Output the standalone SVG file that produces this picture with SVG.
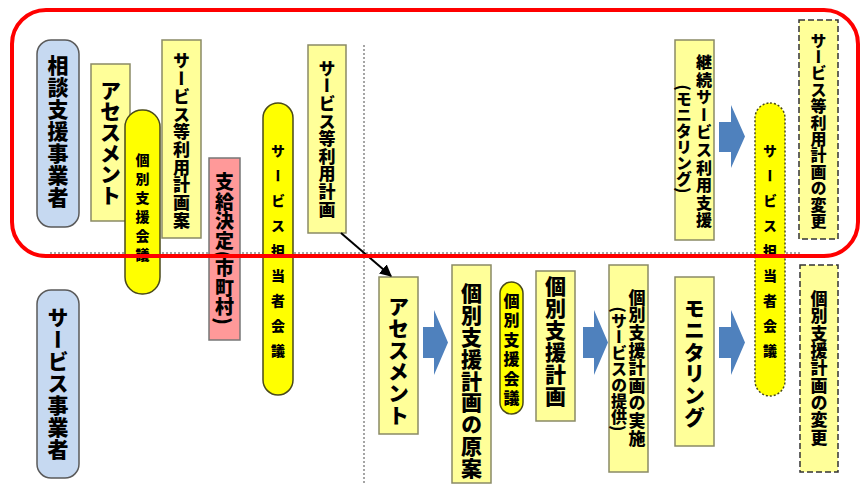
<svg xmlns="http://www.w3.org/2000/svg" width="861" height="485" viewBox="0 0 861 485">
<style>
.lb{fill:#ffff99;stroke:#8a8a66;stroke-width:1.5}
.yp{fill:#ffff00;stroke:#4a4a1a;stroke-width:1.5}
.ypd{fill:#ffff00;stroke:#4a4a1a;stroke-width:1.5;stroke-dasharray:2 2}
.bl{fill:#c6d9f1;stroke:#5a5a5a;stroke-width:1.5}
.pk{fill:#ff9999;stroke:#777;stroke-width:1.5}
.dsh{fill:#ffff99;stroke:#333;stroke-width:1.5;stroke-dasharray:6 3}
.t{font-family:"Noto Sans CJK JP","Noto Sans CJK SC",sans-serif;font-weight:900;writing-mode:vertical-rl;text-anchor:middle;fill:#000}
.dot{stroke:#888;stroke-width:1.5;stroke-dasharray:2 2;fill:none}
.ba{fill:#4f81bd}
</style>
<defs>
<marker id="ah" viewBox="0 0 10 10" refX="9" refY="5" markerWidth="6" markerHeight="6" orient="auto">
<path d="M0,0 L10,5 L0,10 z" fill="#000"/>
</marker>
</defs>
<rect width="861" height="485" fill="#fff"/>
<g id="guides">
<line class="dot" x1="50" y1="253" x2="802" y2="253"/>
<line class="dot" x1="364" y1="45" x2="364" y2="485"/>
</g>
<g id="n1"><rect class="bl" x="37" y="40" width="42" height="187" rx="14"/><text class="t" x="58" y="132" font-size="21" letter-spacing="1">相談支援事業者</text></g>
<g id="n2"><rect class="bl" x="37" y="290" width="42" height="188" rx="14"/><text class="t" x="58" y="384" font-size="21" letter-spacing="1">サービス事業者</text></g>
<g id="n3"><rect class="lb" x="91" y="64" width="39" height="157"/><text class="t" x="110.5" y="143" font-size="21">アセスメント</text></g>
<g id="n5"><rect class="lb" x="162" y="40" width="39" height="198"/><text class="t" x="181.5" y="141" font-size="17" letter-spacing="0.7">サービス等利用計画案</text></g>
<g id="n4"><rect class="yp" x="125" y="110" width="35" height="184" rx="17"/><text class="t" x="142.5" y="210" font-size="14" letter-spacing="5">個別支援会議</text></g>
<g id="n6"><rect class="pk" x="209" y="158" width="31" height="182"/><text class="t" x="224.5" y="249" font-size="19" letter-spacing="0.5">支給決定(市町村)</text></g>
<g id="n7"><rect class="yp" x="263" y="103" width="30" height="292" rx="15"/><text class="t" x="278" y="256" font-size="14" letter-spacing="11">サービス担当者会議</text></g>
<g id="n8"><rect class="lb" x="308" y="45" width="38" height="188"/><text class="t" x="327" y="139" font-size="17" letter-spacing="0.6">サービス等利用計画</text></g>
<g id="n9"><rect class="lb" x="379" y="277" width="39" height="157"/><text class="t" x="398.5" y="361" font-size="21" letter-spacing="0.7">アセスメント</text></g>
<g id="n10"><rect class="lb" x="452" y="265" width="39" height="218"/><text class="t" x="471.5" y="381" font-size="21" letter-spacing="0.8">個別支援計画の原案</text></g>
<g id="n11"><rect class="yp" x="500" y="282" width="23" height="132" rx="11.5"/><text class="t" x="511.5" y="351" font-size="16" letter-spacing="3.5">個別支援会議</text></g>
<g id="n12"><rect class="lb" x="536" y="271" width="39" height="150"/><text class="t" x="555.5" y="342" font-size="21" letter-spacing="1">個別支援計画</text></g>
<g id="n13"><rect class="lb" x="609" y="265" width="39" height="207"/><text class="t" x="637" y="368" font-size="17" letter-spacing="0.6">個別支援計画の実施</text><text class="t" x="619" y="369" font-size="16">(サービスの提供)</text></g>
<g id="n14"><rect class="lb" x="675" y="277" width="39" height="169"/><text class="t" x="694.5" y="363" font-size="21" letter-spacing="0.7">モニタリング</text></g>
<g id="n15"><rect class="ypd" x="755" y="103" width="30" height="293" rx="15"/><text class="t" x="770" y="256" font-size="14" letter-spacing="11">サービス担当者会議</text></g>
<g id="n16"><rect class="dsh" x="800" y="265" width="38" height="207"/><text class="t" x="819" y="368" font-size="17" letter-spacing="0.3">個別支援計画の変更</text></g>
<g id="n17"><rect class="lb" x="675" y="40" width="39" height="200"/><text class="t" x="704" y="142" font-size="16" letter-spacing="1.6">継続サービス利用支援</text><text class="t" x="684" y="139" font-size="16">(モニタリング)</text></g>
<g id="n18"><rect class="dsh" x="799" y="20" width="39" height="219"/><text class="t" x="818.5" y="131" font-size="16" letter-spacing="0.4">サービス等利用計画の変更</text></g>
<g id="connectors">
<line x1="341" y1="233" x2="391" y2="276" stroke="#000" stroke-width="2" marker-end="url(#ah)"/>
<polygon class="ba" points="423,327 434,327 434,310 448,342.5 434,375 434,358 423,358"/>
<polygon class="ba" points="583,327 594,327 594,310 608,342.5 594,375 594,358 583,358"/>
<polygon class="ba" points="719,327 731,327 731,310 745,342.5 731,375 731,358 719,358"/>
<polygon class="ba" points="719,122 731,122 731,105 745,136.5 731,168 731,152 719,152"/>
</g>
<rect x="12" y="10" width="846" height="246" rx="34" fill="none" stroke="#ff0000" stroke-width="4"/>
</svg>
